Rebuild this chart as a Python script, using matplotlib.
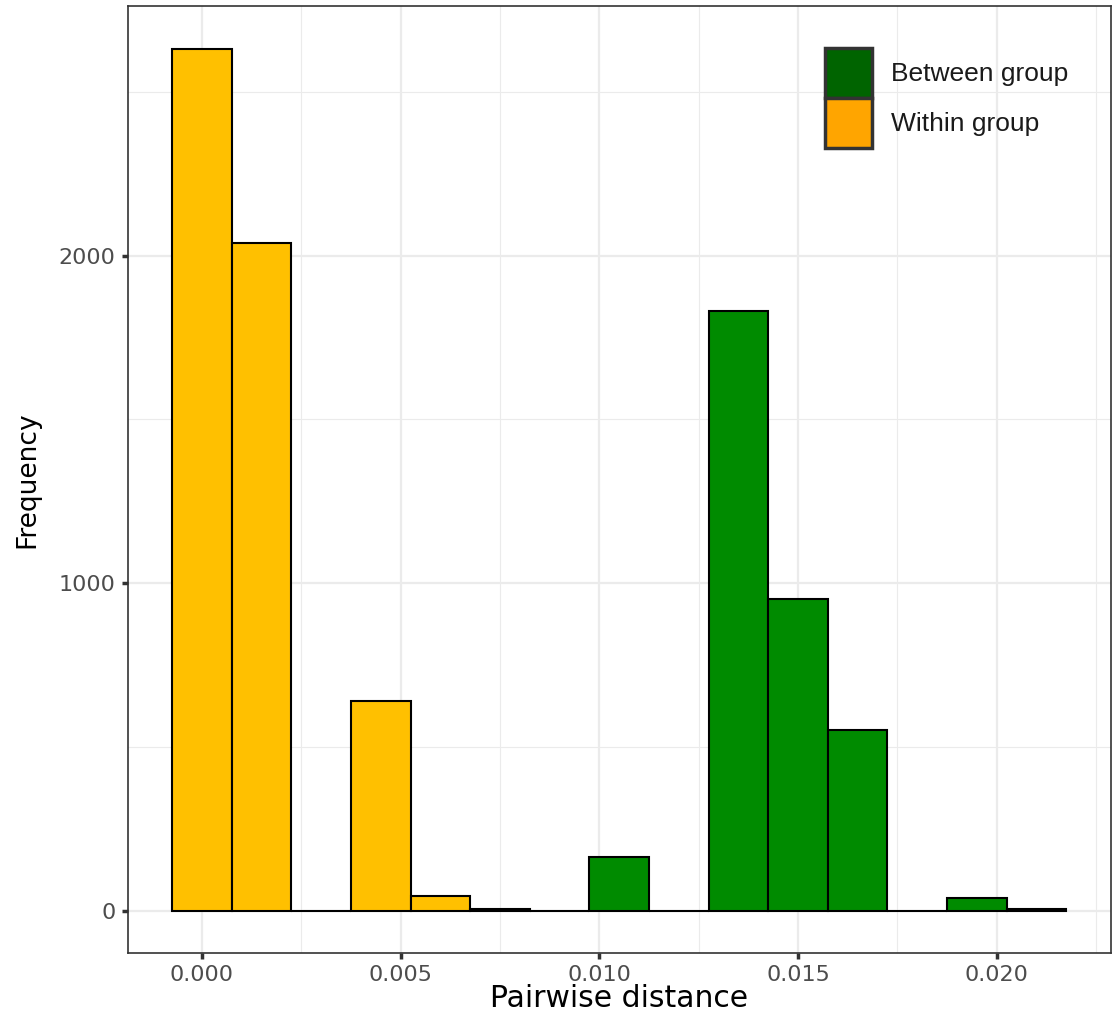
import matplotlib.pyplot as plt
from matplotlib.patches import Patch
from matplotlib.ticker import MultipleLocator

# histogram bins (width 0.0015) and counts
bin_centers = [0.0000, 0.0015, 0.0030, 0.0045, 0.0060, 0.0075, 0.0090, 0.0105,
               0.0120, 0.0135, 0.0150, 0.0165, 0.0180, 0.0195, 0.0210]
counts = [2630, 2037, 0, 640, 46, 7, 0, 165, 0, 1832, 951, 552, 0, 40, 5]
groups = ['Within', 'Within', 'Within', 'Within', 'Within', 'Within', 'Within',
          'Between', 'Between', 'Between', 'Between', 'Between', 'Between',
          'Between', 'Between']
bin_width = 0.0015

bar_colors = {'Within': '#FFC000', 'Between': '#008B00'}
legend_labels = ['Between group', 'Within group']
legend_colors = ['#006400', '#FFA500']

fig = plt.figure(figsize=(11.13, 10.14), dpi=100)
ax = fig.add_axes([0.115, 0.0602, 0.883, 0.934])

ax.bar(bin_centers, counts, width=bin_width,
       color=[bar_colors[g] for g in groups],
       edgecolor='black', linewidth=1.5, zorder=3)

ax.set_xlim(-0.00186, 0.02287)
ax.set_ylim(-128, 2762)
ax.xaxis.set_minor_locator(MultipleLocator(0.0025))
ax.yaxis.set_major_locator(MultipleLocator(1000))
ax.yaxis.set_minor_locator(MultipleLocator(500))
ax.set_xticks([0.0, 0.005, 0.010, 0.015, 0.020])
ax.set_xticklabels(['0.000', '0.005', '0.010', '0.015', '0.020'])

ax.grid(which='major', color='#EBEBEB', linewidth=1.6, zorder=0)
ax.grid(which='minor', color='#EBEBEB', linewidth=0.8, zorder=0)
ax.set_axisbelow(True)
for s in ax.spines.values():
    s.set_color('#333333')
    s.set_linewidth(1.2)

ax.tick_params(which='major', length=4, width=2.5, color='#333333',
               labelsize=16, labelcolor='#4D4D4D', pad=5)
ax.tick_params(which='minor', length=0)

ax.set_xlabel('Pairwise distance', fontsize=21.5, color='black', labelpad=-1)
ax.set_ylabel('Frequency', fontsize=19, color='black', labelpad=13)

handles = [Patch(facecolor=c, edgecolor='#333333', linewidth=2.5) for c in legend_colors]
leg = ax.legend(handles, legend_labels, loc='upper left',
                bbox_to_anchor=(0.709, 0.956), frameon=False,
                handlelength=1.8, handleheight=2.55, labelspacing=0.0,
                handletextpad=0.7, borderaxespad=0, borderpad=0,
                prop={'family': 'Liberation Sans', 'size': 19})
for t in leg.get_texts():
    t.set_color('#1A1A1A')

fig.savefig('out.png', dpi=100)
